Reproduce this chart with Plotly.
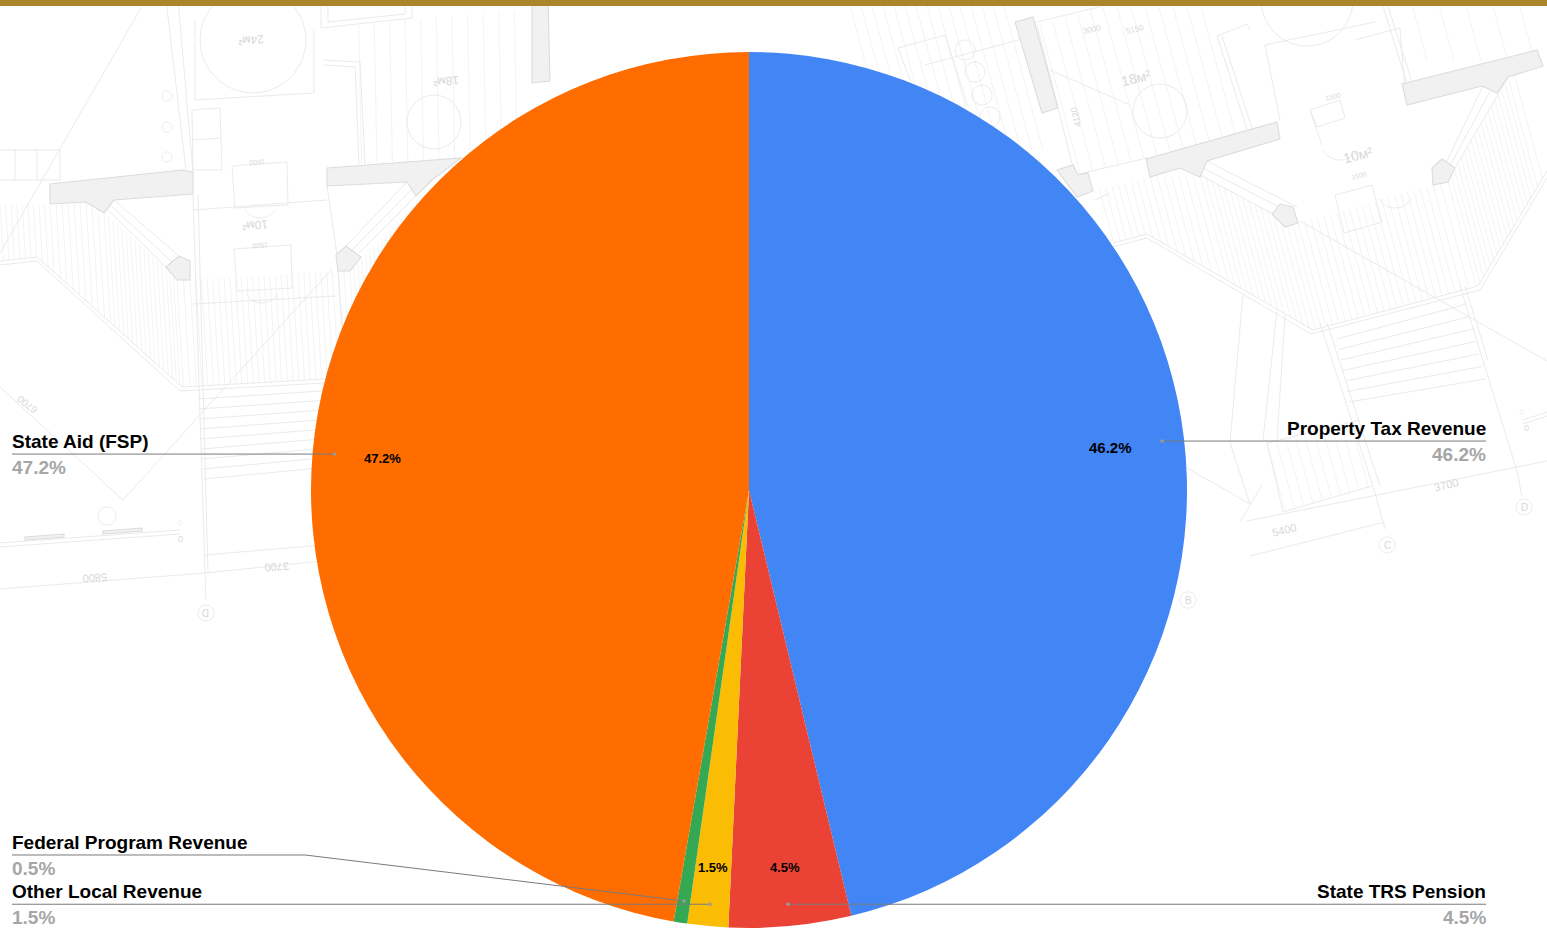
import math
import plotly.graph_objects as go

# Revenue mix
categories = ["Property Tax Revenue", "State TRS Pension", "Other Local Revenue",
              "Federal Program Revenue", "State Aid (FSP)"]
values = [46.2, 4.5, 1.5, 0.5, 47.2]
colors = ["#4285F4", "#EA4335", "#FBBC04", "#34A853", "#FF6D01"]

W, H = 1547, 930
CX, CY, R = 749, 490, 438
BAND = "#AB852B"
INK = "#000000"
MUTED = "#A6A6A6"
LEADER = "#7a7a7a"

# placement of the in-slice percentages and of the side captions
text_radius = [0.83, 0.865, 0.865, None, 0.84]
text_size = [15, 13, 13, 13, 13]
caption_side = ["right", "right", "left", "left", "left"]
elbow_y = [None, None, None, 855, None]


def px(x):
    return x / W


def py(y):
    return 1 - y / H


def path(points, close=False):
    s = "M" + " L".join(f"{px(x):.5f},{py(y):.5f}" for x, y in points)
    return s + (" Z" if close else "")


def circle(cx, cy, r, a0=0, a1=360, n=36):
    return [(cx + r * math.cos(math.radians(a0 + (a1 - a0) * i / n)),
             cy + r * math.sin(math.radians(a0 + (a1 - a0) * i / n))) for i in range(n + 1)]


def cross(p, d, a, b):
    ex, ey = b[0] - a[0], b[1] - a[1]
    den = d[0] * ey - d[1] * ex
    if abs(den) < 1e-9:
        return None
    t = ((a[0] - p[0]) * ey - (a[1] - p[1]) * ex) / den
    u = ((a[0] - p[0]) * d[1] - (a[1] - p[1]) * d[0]) / den
    return t if t > 0 and 0 <= u <= 1 else None


def hatch(top, bottom, direction, step):
    """Parallel lines running from one polyline down to another."""
    out = []
    for a, b in zip(top, top[1:]):
        n = max(1, int(math.hypot(b[0] - a[0], b[1] - a[1]) / step))
        for i in range(n):
            p = (a[0] + (b[0] - a[0]) * i / n, a[1] + (b[1] - a[1]) * i / n)
            hits = [t for q, r in zip(bottom, bottom[1:]) if (t := cross(p, direction, q, r)) is not None]
            if hits:
                t = min(hits)
                out.append([p, (p[0] + direction[0] * t, p[1] + direction[1] * t)])
    return out


# ---- floor-plan backdrop, walls first ----
walls = [
    [(1146, 159), (1277, 122), (1280, 139), (1207, 161), (1200, 177), (1180, 168), (1150, 177)],
    [(1402, 84), (1537, 50), (1543, 66), (1508, 77), (1497, 93), (1482, 86), (1407, 105)],
    [(1272, 214), (1280, 204), (1293, 207), (1298, 223), (1285, 227)],
    [(1432, 168), (1442, 159), (1455, 168), (1448, 182), (1433, 185)],
    [(1057, 170), (1073, 165), (1078, 175), (1088, 173), (1093, 191), (1077, 197)],
    [(1015, 22), (1033, 17), (1058, 108), (1042, 113)],
    [(50, 184), (182, 170), (193, 172), (193, 194), (114, 200), (104, 213), (86, 202), (50, 204)],
    [(327, 168), (461, 158), (432, 180), (416, 196), (407, 182), (327, 186)],
    [(166, 267), (179, 256), (190, 261), (190, 280), (177, 280)],
    [(336, 255), (346, 246), (361, 257), (350, 271), (338, 271)],
    [(532, 0), (532, 83), (550, 81), (548, 0)],
    [(25, 540), (64, 537), (64, 534), (25, 537)],
    [(103, 534), (142, 531), (142, 528), (103, 531)],
]

lines = [
    # terrace outlines and stair edges
    [(1113, 243), (1147, 234), (1313, 330), (1478, 286), (1547, 171)],
    [(1113, 247), (1147, 238), (1311, 334), (1480, 290), (1547, 178)],
    [(0, 261), (37, 257), (182, 387), (325, 379)],
    [(0, 265), (37, 261), (180, 391), (325, 383)],
    [(1207, 161), (1297, 207)], [(1200, 175), (1273, 214)],
    [(1203, 168), (1285, 210)],
    [(1455, 168), (1508, 77)], [(1447, 161), (1483, 86)], [(1451, 164), (1495, 82)],
    [(107, 209), (166, 267)], [(114, 200), (179, 256)], [(110, 205), (172, 262)],
    [(359, 253), (432, 180)], [(346, 246), (407, 182)], [(352, 250), (420, 181)],
    # room partitions
    [(1217, 36), (1247, 129)], [(1222, 36), (1252, 128)], [(1217, 36), (1247, 24)], [(1247, 24), (1250, 30)],
    [(1383, 6), (1412, 100)], [(1388, 6), (1417, 98)],
    [(1037, 25), (1075, 175), (1147, 158)], [(1033, 23), (1103, 6)],
    [(1265, 45), (1375, 22)], [(1265, 45), (1280, 120)],
    [(1355, 40), (1400, 28), (1405, 90)],
    [(898, 48), (945, 35), (968, 107)], [(898, 48), (925, 120)], [(925, 65), (1037, 35)],
    [(1300, 221), (1547, 361)], [(1130, 105), (1050, 70)],
    [(1243, 293), (1230, 443), (1250, 504)], [(1277, 311), (1263, 440)], [(1285, 315), (1277, 440)],
    [(1187, 468), (1250, 504)], [(1240, 522), (1262, 485)],
    [(1320, 323), (1373, 486), (1385, 529)], [(1327, 323), (1380, 486)],
    [(1460, 286), (1517, 471), (1522, 497)], [(1465, 286), (1488, 360)],
    [(1247, 521), (1547, 461)], [(1250, 556), (1385, 522)],
    [(1267, 443), (1283, 512), (1372, 486)], [(1267, 443), (1360, 420)],
    [(1523, 420), (1547, 412)], [(1523, 424), (1547, 416)],
    [(1310, 110), (1340, 100), (1345, 118), (1317, 127), (1310, 110)],
    [(1335, 195), (1372, 185), (1382, 222), (1344, 233), (1335, 195)],
    [(1310, 110), (1322, 145)], [(1095, 200), (1110, 193)],
    # left-hand rooms
    [(166, 0), (186, 170)], [(178, 0), (193, 172)], [(193, 194), (205, 573)], [(198, 194), (208, 573)],
    [(321, 6), (321, 28), (412, 18), (412, 6)], [(328, 6), (328, 22), (405, 14), (405, 6)],
    [(323, 65), (355, 67), (359, 164)], [(323, 60), (360, 62), (365, 164)],
    [(195, 100), (314, 93)], [(195, 20), (195, 100)], [(314, 30), (314, 93)],
    [(192, 110), (220, 108), (222, 170), (193, 170), (192, 110)],
    [(193, 140), (222, 138)],
    [(232, 166), (287, 162), (288, 205), (235, 208), (232, 166)],
    [(234, 249), (291, 245), (292, 288), (237, 291), (234, 249)],
    [(193, 210), (327, 200)], [(193, 304), (336, 296)],
    [(327, 186), (337, 255)], [(338, 271), (350, 420)],
    [(332, 269), (123, 500)], [(0, 253), (141, 8)], [(0, 387), (123, 500)],
    [(0, 543), (180, 530)], [(0, 547), (180, 534)],
    [(0, 589), (205, 573), (322, 561)], [(205, 555), (322, 545)], [(205, 573), (206, 600)],
    [(0, 150), (60, 150), (60, 180), (0, 180)], [(15, 150), (15, 180)], [(37, 150), (37, 180)],
    # the blueprint's small round details
    circle(1160, 111, 27), circle(434, 122, 27), circle(253, 40, 53),
    circle(1307, 0, 46, 0, 180), circle(1524, 507, 8), circle(1387, 545, 8), circle(1188, 600, 8),
    circle(206, 613, 8), circle(107, 516, 9), circle(180, 523, 2),
    circle(1522, 412, 2), circle(965, 50, 10), circle(975, 72, 10), circle(982, 95, 10), circle(990, 117, 10),
    circle(167, 96, 5), circle(167, 127, 5), circle(167, 157, 5),
    circle(1340, 140, 20, 30, 150), circle(1395, 190, 18, 30, 150),
    circle(260, 200, 18, 30, 150), circle(262, 285, 18, 30, 150),
]

# stair treads
for i in range(7):
    lines.append([(1337 + i * 2, 339 + i * 10.5), (1467 + i * 3, 304 + i * 12.5)])
for i in range(9):
    lines.append([(198 + i * 0.7, 399 + i * 10), (321, 391 + i * 9.6)])

# fine terrace and room rulings
rulings = []
rulings += hatch([(1093, 191), (1150, 177), (1200, 175), (1273, 214), (1298, 223), (1433, 185), (1448, 182),
                  (1508, 77), (1547, 66)],
                 [(1113, 243), (1147, 234), (1313, 330), (1478, 286), (1547, 171)], (0.27, 1), 6.5)
rulings += hatch([(0, 204), (50, 204), (86, 202), (104, 213), (166, 267), (177, 280), (190, 280), (338, 271),
                  (350, 271), (430, 190)],
                 [(0, 261), (37, 257), (182, 387), (325, 379), (450, 372)], (0.06, 1), 5.5)
rulings += hatch([(850, 6), (1015, 6)], [(880, 150), (1060, 150)], (0.27, 1), 11)
rulings += hatch([(1040, 25), (1103, 7), (1215, 7)], [(1075, 175), (1146, 158), (1260, 130)], (0.27, 1), 13)
rulings += hatch([(1267, 443), (1360, 420)], [(1283, 512), (1372, 486)], (0.27, 1), 9)
rulings += hatch([(328, 28), (405, 20), (530, 10)], [(359, 164), (461, 158), (540, 150)], (0.02, 1), 15)
rulings += hatch([(1413, 8), (1547, 8)], [(1413, 60), (1547, 60)], (0.27, 1), 26)

shapes = [
    dict(type="path", xref="paper", yref="paper", layer="below", path=" ".join(path(r) for r in rulings),
         line=dict(color="#f0f0f0", width=0.8)),
    dict(type="path", xref="paper", yref="paper", layer="below", path=" ".join(path(l) for l in lines),
         line=dict(color="#e8e8e8", width=0.9)),
]
for w in walls:
    shapes.append(dict(type="path", xref="paper", yref="paper", layer="below", path=path(w, True),
                       fillcolor="#f1f1f1", line=dict(color="#dcdcdc", width=1.1)))
shapes.append(dict(type="rect", xref="paper", yref="paper", x0=0, x1=1, y0=py(6), y1=1,
                   fillcolor=BAND, line=dict(width=0), layer="above"))

plan_text = [
    ("18м²", 1136, 78, 14, -14), ("10м²", 1358, 155, 14, -14), ("3700", 1446, 485, 11, -14),
    ("5400", 1284, 530, 11, -14), ("24м²", 251, 40, 12, 175), ("18м²", 446, 81, 12, 175),
    ("10м²", 255, 225, 12, 175), ("5800", 95, 578, 11, 176), ("3700", 277, 567, 11, 176),
    ("6700", 27, 405, 10, 218), ("3000", 1092, 30, 8, -14), ("5150", 1135, 30, 8, -14),
    ("4120", 1076, 117, 9, -104), ("1500", 1333, 96, 7, -14), ("1500", 1359, 175, 7, -14),
    ("D", 1524, 507, 10, 0), ("C", 1387, 545, 10, 0), ("B", 1188, 600, 10, 0), ("D", 206, 613, 10, 180),
    ("0", 1526, 428, 9, 0), ("0", 181, 539, 9, 180), ("1500", 257, 163, 7, 176), ("1500", 260, 246, 7, 176),
]
annotations = [dict(text=t, x=px(x), y=py(y), xref="paper", yref="paper", showarrow=False,
                    xanchor="center", yanchor="middle", textangle=a,
                    font=dict(family="Liberation Sans", size=s, color="#d8d8d8"))
               for t, x, y, s, a in plan_text]

# Everything attached to a slice is placed from the slice's own mid-angle
total = sum(values)
running = 0
for i, (name, v) in enumerate(zip(categories, values)):
    angle = math.radians((running + v / 2) / total * 360)
    running += v
    sx, sy = math.sin(angle), -math.cos(angle)

    if text_radius[i] is not None:
        annotations.append(dict(text=f"<b>{v}%</b>", x=px(CX + R * text_radius[i] * sx),
                                y=py(CY + R * text_radius[i] * sy), xref="paper", yref="paper",
                                xanchor="center", yanchor="middle", showarrow=False,
                                font=dict(family="Liberation Sans", size=text_size[i], color=INK)))

    dx, dy = CX + 0.95 * R * sx, CY + 0.95 * R * sy
    line_y = elbow_y[i] if elbow_y[i] is not None else dy
    right = caption_side[i] == "right"
    edge = 1486 if right else 12
    pts = [(dx, dy), (305, line_y), (edge, line_y)] if elbow_y[i] is not None else [(dx, dy), (edge, line_y)]
    shapes.append(dict(type="path", xref="paper", yref="paper", layer="above", path=path(pts),
                       line=dict(color=LEADER, width=1)))
    shapes.append(dict(type="path", xref="paper", yref="paper", layer="above", path=path(circle(dx, dy, 1.8, n=12), True),
                       fillcolor="#9a9a9a", line=dict(width=0)))

    for text, offset, colour in ((name, -13, INK), (f"{v}%", 13, MUTED)):
        annotations.append(dict(text=f"<b>{text}</b>", x=px(edge), y=py(line_y + offset), xref="paper", yref="paper",
                                showarrow=False, xanchor="right" if right else "left", yanchor="middle", borderpad=0,
                                borderwidth=0, font=dict(family="Liberation Sans", size=19, color=colour)))

fig = go.Figure(go.Pie(
    labels=categories, values=values, sort=False, direction="clockwise", rotation=0,
    marker=dict(colors=colors, line=dict(width=0)), textinfo="none", showlegend=False,
    domain=dict(x=[(CX - R) / W, (CX + R) / W], y=[1 - (CY + R) / H, 1 - (CY - R) / H]),
))
fig.update_layout(width=W, height=H, margin=dict(l=0, r=0, t=0, b=0), paper_bgcolor="white",
                  plot_bgcolor="white", shapes=shapes, annotations=annotations)
fig.write_html("out.html", config=dict(displayModeBar=False))
